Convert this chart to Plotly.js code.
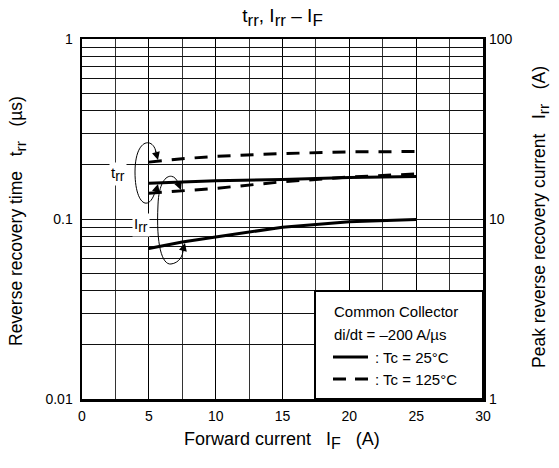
<!DOCTYPE html>
<html>
<head>
<meta charset="utf-8">
<script src="https://cdn.plot.ly/plotly-3.0.1.min.js"></script>
<style>html,body{margin:0;padding:0;background:#fff;}#chart{width:559px;height:468px;}</style>
</head>
<body>
<div id="chart"></div>
<script>
// Forward current I_F (A)
const IF_trr25 = [5, 7.5, 10, 15, 20, 25];
const trr25 = [0.158, 0.161, 0.163, 0.166, 0.170, 0.172];      // µs, Tc = 25°C
const IF_trr125 = [5, 7.5, 10, 15, 20, 25];
const trr125 = [0.207, 0.216, 0.223, 0.231, 0.236, 0.237];     // µs, Tc = 125°C
const IF_irr25 = [5, 7.5, 10, 15, 20, 25];
const irr25 = [6.85, 7.45, 7.95, 9.0, 9.65, 9.95];             // A, Tc = 25°C
const IF_irr125 = [5, 7.5, 10, 15, 20, 25];
const irr125 = [13.9, 14.3, 14.8, 16.1, 17.1, 17.8];           // A, Tc = 125°C

const xTicks = [0, 5, 10, 15, 20, 25, 30];
const yLeftTicks = [0.01, 0.1, 1];
const yLeftLabels = ['0.01', '0.1', '1'];
const yRightTicks = [1, 10, 100];
const yRightLabels = ['1', '10', '100'];

// log grid values (1..9 per decade)
const gridVals = [];
for (let d = -2; d < 0; d++) for (let m = 1; m < 10; m++) gridVals.push(m * Math.pow(10, d));
gridVals.push(1);
const gridText = gridVals.map(v => {
  const i = yLeftTicks.findIndex(t => Math.abs(t - v) < 1e-9);
  return i >= 0 ? yLeftLabels[i] : '';
});

const FONT = 'Liberation Sans, Arial, sans-serif';
const W = 559, H = 468, L = 82, R = 483, T = 39, B = 399;
const px = X => (X - L) / (R - L);
const py = Y => (B - Y) / (B - T);
const P = (X, Y) => px(X).toFixed(4) + ',' + py(Y).toFixed(4);
const sub = (s, size) => '<sub><span style="font-size:' + size + 'px">' + s + '</span></sub>';

const traces = [
  {x: IF_trr25, y: trr25, mode: 'lines', line: {color: '#000', width: 3}, yaxis: 'y', showlegend: false, hoverinfo: 'skip'},
  {x: IF_trr125, y: trr125, mode: 'lines', line: {color: '#000', width: 3, dash: '13px,10px'}, yaxis: 'y', showlegend: false, hoverinfo: 'skip'},
  {x: IF_irr25, y: irr25, mode: 'lines', line: {color: '#000', width: 3}, yaxis: 'y2', showlegend: false, hoverinfo: 'skip'},
  {x: IF_irr125, y: irr125, mode: 'lines', line: {color: '#000', width: 3, dash: '13px,10px'}, yaxis: 'y2', showlegend: false, hoverinfo: 'skip'}
];

const shapes = [
  // trr loop
  {type: 'path', xref: 'paper', yref: 'paper', layer: 'above',
   path: 'M' + P(156, 152) + ' C' + P(153, 137) + ' ' + P(135, 138) + ' ' + P(135, 172) +
         ' C' + P(135, 205) + ' ' + P(149, 212) + ' ' + P(155, 192),
   line: {color: '#000', width: 1}},
  // Irr loop
  {type: 'path', xref: 'paper', yref: 'paper', layer: 'above',
   path: 'M' + P(178, 183) + ' C' + P(174, 171) + ' ' + P(159, 173) + ' ' + P(158, 205) +
         ' C' + P(156, 245) + ' ' + P(162, 265) + ' ' + P(171, 264) +
         ' C' + P(179, 263) + ' ' + P(183, 256) + ' ' + P(183, 250),
   line: {color: '#000', width: 1}},
  // legend box
  {type: 'rect', xref: 'paper', yref: 'paper', layer: 'above',
   x0: px(315), x1: 1, y0: 0, y1: py(291), fillcolor: '#fff', line: {color: '#000', width: 2}},
  {type: 'line', xref: 'paper', yref: 'paper', layer: 'above',
   x0: px(333), x1: px(368), y0: py(357), y1: py(357), line: {color: '#000', width: 3}},
  {type: 'line', xref: 'paper', yref: 'paper', layer: 'above',
   x0: px(333), x1: px(368), y0: py(379), y1: py(379), line: {color: '#000', width: 3, dash: '13px,9px'}}
];

function arrow(tx, ty, ax, ay) {
  return {xref: 'paper', yref: 'paper', x: px(tx), y: py(ty), ax: ax, ay: ay, text: '',
          showarrow: true, arrowhead: 2, arrowsize: 1.6, arrowwidth: 1, arrowcolor: '#000'};
}
function txt(X, Y, text, opts) {
  return Object.assign({xref: 'paper', yref: 'paper', x: px(X), y: py(Y), text: text, showarrow: false,
          xanchor: 'center', yanchor: 'middle',
          font: {family: FONT, size: 15, color: '#000'}}, opts || {});
}
const big = {family: FONT, size: 18, color: '#000'};
const vbig = {family: FONT, size: 17.5, color: '#000'};

const annotations = [
  arrow(158, 160, -3, -11),
  arrow(158, 184, -3, 11),
  arrow(181, 190, -4, -10),
  arrow(185, 243, -3, 11),
  txt(118, 174, 't' + sub('rr', 14), {bgcolor: '#fff', borderpad: 1}),
  txt(141, 225, 'I' + sub('rr', 14), {bgcolor: '#fff', borderpad: 1}),
  txt(332, 311, 'Common Collector', {xanchor: 'left'}),
  txt(332, 334, 'di/dt = \u2013200 A/\u00b5s', {xanchor: 'left'}),
  txt(373, 357, ': Tc = 25\u00b0C', {xanchor: 'left'}),
  txt(373, 379, ': Tc = 125\u00b0C', {xanchor: 'left'}),
  // axis titles
  txt(282, 440, 'Forward current   I' + sub('F', 16) + '   (A)', {font: big}),
  txt(17, 221, 'Reverse recovery time   t' + sub('rr', 15.5) + '   (\u00b5s)', {textangle: -90, font: vbig}),
  txt(540, 217, 'Peak reverse recovery current   I' + sub('rr', 15.5) + '   (A)', {textangle: -90, font: vbig})
];

const layout = {
  width: W, height: H,
  margin: {l: L, r: W - R, t: T, b: H - B, pad: 0},
  paper_bgcolor: '#fff', plot_bgcolor: '#fff',
  font: {family: FONT, size: 14, color: '#000'},
  title: {text: 't' + sub('rr', 17) + ', I' + sub('rr', 17) + ' \u2013 I' + sub('F', 17), x: 0.5, xref: 'paper', y: 1 - 15 / H, yanchor: 'middle',
          font: {family: FONT, size: 19, color: '#000'}},
  showlegend: false,
  xaxis: {range: [0, 30], tickvals: xTicks, ticks: '', showgrid: true, gridcolor: '#000', gridwidth: 1,
          minor: {dtick: 2.5, showgrid: true, gridcolor: '#333', gridwidth: 1, ticks: ''},
          showline: true, mirror: true, linecolor: '#000', linewidth: 2.5, zeroline: false, ticklabelstandoff: 3,
          tickfont: {family: FONT, size: 14, color: '#000'}, fixedrange: true},
  yaxis: {type: 'log', range: [-2, 0], tickvals: gridVals, ticktext: gridText, ticks: '',
          showgrid: true, gridcolor: '#111', gridwidth: 1, ticklabelstandoff: 4,
          showline: true, mirror: true, linecolor: '#000', linewidth: 2.5, zeroline: false,
          tickfont: {family: FONT, size: 14, color: '#000'}, fixedrange: true},
  yaxis2: {type: 'log', range: [0, 2], overlaying: 'y', side: 'right', tickvals: yRightTicks, ticktext: yRightLabels,
           ticks: '', showgrid: false, showline: false, zeroline: false, ticklabelstandoff: 5,
           tickfont: {family: FONT, size: 14, color: '#000'}, fixedrange: true},
  shapes: shapes,
  annotations: annotations
};

Plotly.newPlot('chart', traces, layout, {staticPlot: true, displayModeBar: false});
</script>
</body>
</html>
